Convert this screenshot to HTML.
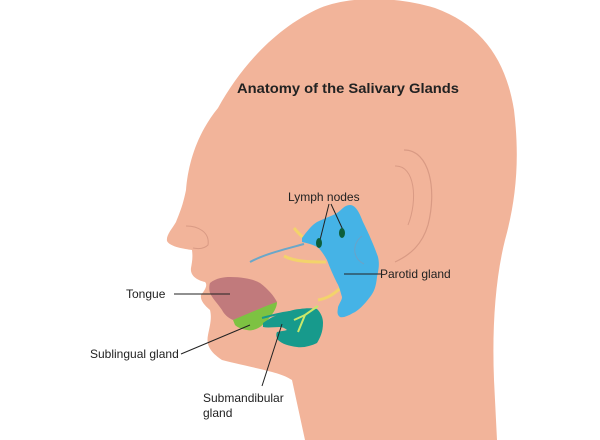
<!DOCTYPE html>
<html><head><style>body{margin:0;background:#fff}svg{display:block}text{font-family:"Liberation Sans",sans-serif;fill:#222}</style></head><body>
<svg width="600" height="440" viewBox="0 0 600 440">
<path d="M305,440 L292,380 C280,372 262,370 222,360 C210,352 206,345 208,335 C210,325 212,318 210,310 C204,305 200,300 201,295 C205,290 208,285 205,282 C196,280 190,275 191,268 C192,262 193,258 192,250 C185,249 170,247 167,241 C166,235 172,229 176,222 C180,212 183,205 186,190 C188,165 196,135 218,108 C240,68 275,28 320,8 C350,-4 395,-4 435,8 C482,25 506,60 514,110 C520,160 516,200 505,240 C495,280 492,330 494,380 L497,440 Z" fill="#f2b49a"/>
<path d="M404,150 C430,150 437,190 428,225 C422,245 410,255 395,262" fill="none" stroke="#d99a84" stroke-width="1.2"/>
<path d="M395,166 C415,165 418,200 408,225" fill="none" stroke="#d99a84" stroke-width="1"/>
<path d="M186,226 C198,226 210,232 208,245 C204,249 198,249 193,248" fill="none" stroke="#d99a84" stroke-width="1"/>
<path d="M294,228 C300,235 306,241 314,244" fill="none" stroke="#f3d36b" stroke-width="3"/>
<path d="M284,256 C295,262 312,262 326,262" fill="none" stroke="#f3d36b" stroke-width="3"/>
<path d="M318,300 C330,298 336,292 343,286" fill="none" stroke="#f3d36b" stroke-width="3"/>
<path d="M302,238 C308,230 312,225 317,222 C325,218 332,216 337,213 C342,210 344,205 350,205 C356,205 360,214 363,222 C367,230 374,245 378,257 C380,265 378,272 377,277 C376,287 374,292 370,297 C364,305 358,311 353,313 C348,316 343,318 340,317 C336,314 338,310 338,307 C340,302 342,300 342,297 C340,290 339,286 337,283 C333,275 330,268 327,260 C323,253 320,249 317,247 C312,244 306,243 302,242 Z" fill="#45b3e6"/>
<path d="M250,262 C265,254 282,250 304,244" fill="none" stroke="#6aa7c9" stroke-width="2"/>
<path d="M362,236 C352,244 352,258 364,264" fill="none" stroke="#6aa3c8" stroke-width="1"/>
<path d="M210,283 C216,278 224,277 230,277 C245,277 255,280 260,283 C268,289 274,296 277,302 C268,306 258,310 250,313 C244,316 238,318 233,320 C228,318 224,314 222,310 C218,304 212,298 210,293 C209,290 209,286 210,283 Z" fill="#c17a7c"/>
<path d="M233,320 C250,313 265,306 277,302 C277,306 275,310 273,313 C268,320 264,324 260,327 C255,330 250,331 247,330 C241,329 237,327 235,325 Z" fill="#7dc242"/>
<path d="M263,323 C270,318 276,315 283,313 C290,311 295,309 300,309 C306,308 312,308 317,309 C321,313 323,318 323,323 C323,332 320,338 317,343 C311,346 303,348 297,347 C289,346 282,344 278,340 C276,337 276,334 277,332 C281,331 284,331 287,330 C285,328 282,327 280,327 C274,327 268,328 263,327 Z" fill="#179a8c"/>
<path d="M262,318 C270,316 280,313 290,312" fill="none" stroke="#179a8c" stroke-width="2"/>
<path d="M294,320 L305,315 L318,306 M305,315 L298,332" fill="none" stroke="#c9e86a" stroke-width="2"/>
<g stroke="#222" stroke-width="1" fill="none">
<path d="M329,204 L320,240 M331,204 L343,230 M381,274 L344,274 M174,294 L230,294 M181,354 L250,325 M262,386 L282,324"/>
</g>
<ellipse cx="319" cy="243" rx="3" ry="5" fill="#0d5e3a"/>
<ellipse cx="342" cy="233" rx="3" ry="5" fill="#0d5e3a"/>
<text x="237" y="93" font-size="14" font-weight="bold" textLength="222" lengthAdjust="spacingAndGlyphs">Anatomy of the Salivary Glands</text>
<text x="288" y="201" font-size="12">Lymph nodes</text>
<text x="380" y="278" font-size="12">Parotid gland</text>
<text x="126" y="298" font-size="12">Tongue</text>
<text x="90" y="358" font-size="12">Sublingual gland</text>
<text x="203" y="402" font-size="12">Submandibular</text>
<text x="203" y="417" font-size="12">gland</text>
</svg>
</body></html>
